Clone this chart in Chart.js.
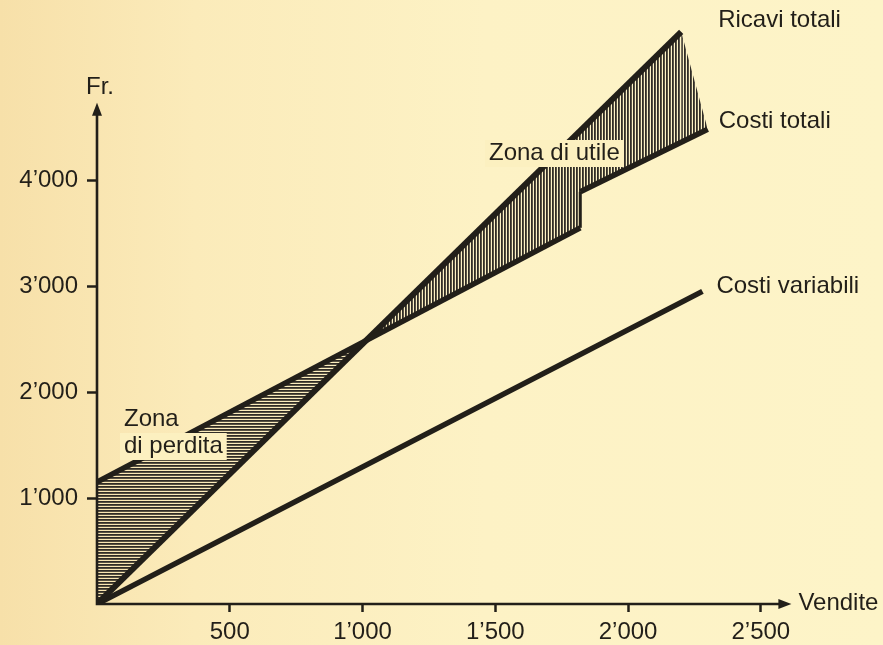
<!DOCTYPE html>
<html lang="it">
<head>
<meta charset="utf-8">
<title>Zona di utile e zona di perdita</title>
<script src="https://cdn.jsdelivr.net/npm/chart.js@4.4.1/dist/chart.umd.min.js"></script>
<style>
  html, body { margin: 0; padding: 0; }
  body {
    width: 883px; height: 645px; overflow: hidden;
    background: linear-gradient(90deg, #f7e0a9 0%, #fbebba 22%, #fdf2c5 55%, #fdf4c8 100%);
  }
  canvas { display: block; }
</style>
</head>
<body>
<canvas id="chart" width="883" height="645"></canvas>
<script>
// Fr. against units sold
const revenueX = [0, 2200];
const revenueY = [0, 5400];
const totalCostX = [0, 1820, 1820, 2300];
const totalCostY = [1150, 3550, 3890, 4480];
const variableCostX = [0, 2280];
const variableCostY = [0, 2950];

const xTickValues = [500, 1000, 1500, 2000, 2500];
const yTickValues = [1000, 2000, 3000, 4000];
const seriesNames = ["Ricavi totali", "Costi totali", "Costi variabili"];
const xTitle = "Vendite";
const yTitle = "Fr.";
const lossLabel = ["Zona", "di perdita"];
const profitLabel = "Zona di utile";

const INK = "#221f19";
const HATCH = "#302c26";
const PAPER = "#fcf0c0";
const FONT = "'Liberation Sans', Arial, sans-serif";
const FONT_SIZE = 24;

const canvas = document.getElementById("chart");
const mainCtx = canvas.getContext("2d");

const toPoints = (xs, ys) => xs.map((x, i) => ({ x, y: ys[i] }));

// 1'000 style thousands
const fmt = (v) => (v >= 1000 ? `${Math.floor(v / 1000)}\u2019${String(v % 1000).padStart(3, "0")}` : String(v));

function hatch(vertical) {
  const c = document.createElement("canvas");
  c.width = 3;
  c.height = 3;
  const g = c.getContext("2d");
  g.fillStyle = HATCH;
  if (vertical) g.fillRect(0, 0, 1.8, 3);
  else g.fillRect(0, 0, 3, 1.8);
  return mainCtx.createPattern(c, "repeat");
}

// revenue outline closed down to the last cost point so the profit hatch gets its slanted edge
const costEnd = { x: totalCostX[totalCostX.length - 1], y: totalCostY[totalCostY.length - 1] };
const revenueEdge = [...toPoints(revenueX, revenueY), costEnd];

const annotate = {
  id: "annotate",
  afterDatasetsDraw(chart) {
    const { ctx, scales: { x, y } } = chart;
    const x0 = x.getPixelForValue(0);
    const y0 = y.getPixelForValue(0);
    const yTop = y.getPixelForValue(4730);
    const xEnd = x.getPixelForValue(2615);

    ctx.save();
    ctx.strokeStyle = INK;
    ctx.fillStyle = INK;
    ctx.lineWidth = 2.6;
    ctx.beginPath();
    ctx.moveTo(x0, y0 + 1.3);
    ctx.lineTo(x0, yTop + 8);
    ctx.moveTo(x0 - 1.3, y0);
    ctx.lineTo(xEnd - 8, y0);
    ctx.stroke();

    ctx.beginPath();
    ctx.moveTo(x0, yTop);
    ctx.lineTo(x0 - 5, yTop + 13);
    ctx.lineTo(x0 + 5, yTop + 13);
    ctx.closePath();
    ctx.fill();
    ctx.beginPath();
    ctx.moveTo(xEnd, y0);
    ctx.lineTo(xEnd - 13, y0 - 5);
    ctx.lineTo(xEnd - 13, y0 + 5);
    ctx.closePath();
    ctx.fill();

    ctx.font = `${FONT_SIZE}px ${FONT}`;
    ctx.textBaseline = "middle";
    ctx.textAlign = "center";
    ctx.fillText(yTitle, x0 + 3, yTop - 15);
    ctx.textAlign = "left";
    ctx.fillText(xTitle, xEnd + 7, y0 - 1);

    // series names beside the line ends
    const ends = [
      [revenueX, revenueY, 37, -11],
      [totalCostX, totalCostY, 11, -8],
      [variableCostX, variableCostY, 14, -5],
    ];
    ends.forEach(([xs, ys, dx, dy], i) => {
      const px = x.getPixelForValue(xs[xs.length - 1]);
      const py = y.getPixelForValue(ys[ys.length - 1]);
      ctx.fillText(seriesNames[i], px + dx, py + dy);
    });

    // zone labels, boxed where they sit on the hatching
    const boxed = (text, left, mid) => {
      const w = ctx.measureText(text).width;
      ctx.fillStyle = PAPER;
      ctx.fillRect(left - 4, mid - 13, w + 8, 27);
      ctx.fillStyle = INK;
      ctx.fillText(text, left, mid);
    };
    boxed(profitLabel, 489, 153);
    ctx.fillText(lossLabel[0], 124, 419);
    boxed(lossLabel[1], 124, 446);
    ctx.restore();
  },
};

const tickFont = { family: FONT, size: FONT_SIZE };

new Chart(canvas, {
  type: "line",
  data: {
    datasets: [
      {
        label: seriesNames[1],
        data: toPoints(totalCostX, totalCostY),
        borderColor: INK,
        borderWidth: 5.5,
        borderCapStyle: "butt",
        pointRadius: 0,
        fill: false,
        segment: {
          borderWidth: (s) => (s.p0.parsed.x === s.p1.parsed.x ? 3 : undefined),
        },
      },
      {
        label: seriesNames[0],
        data: revenueEdge,
        borderColor: INK,
        borderWidth: 6,
        borderCapStyle: "butt",
        pointRadius: 0,
        fill: { target: 0, above: hatch(true), below: hatch(false) },
        segment: {
          borderColor: (s) => (s.p0DataIndex >= revenueX.length - 1 ? "rgba(0,0,0,0)" : undefined),
        },
      },
      {
        label: seriesNames[2],
        data: toPoints(variableCostX, variableCostY),
        borderColor: INK,
        borderWidth: 5.5,
        borderCapStyle: "butt",
        pointRadius: 0,
        fill: false,
      },
    ],
  },
  options: {
    responsive: false,
    animation: false,
    layout: { padding: 0 },
    plugins: {
      legend: { display: false },
      tooltip: { enabled: false },
    },
    scales: {
      x: {
        type: "linear",
        min: 0,
        max: 2960,
        afterFit: (s) => {
          s.height = 41;
          s.paddingLeft = 0;
          s.paddingRight = 0;
        },
        afterBuildTicks: (s) => { s.ticks = xTickValues.map((v) => ({ value: v })); },
        grid: { drawOnChartArea: false, tickLength: 8, tickWidth: 2.5, tickColor: INK },
        border: { display: false },
        ticks: { font: tickFont, color: INK, padding: 6, maxRotation: 0, autoSkip: false, callback: fmt },
      },
      y: {
        type: "linear",
        min: 0,
        max: 5700,
        afterFit: (s) => {
          s.width = 97;
          s.paddingTop = 0;
          s.paddingBottom = 0;
        },
        afterBuildTicks: (s) => { s.ticks = yTickValues.map((v) => ({ value: v })); },
        grid: { drawOnChartArea: false, tickLength: 10, tickWidth: 2.5, tickColor: INK },
        border: { display: false },
        ticks: { font: tickFont, color: INK, padding: 9, autoSkip: false, callback: fmt },
      },
    },
  },
  plugins: [annotate],
});
</script>
</body>
</html>
